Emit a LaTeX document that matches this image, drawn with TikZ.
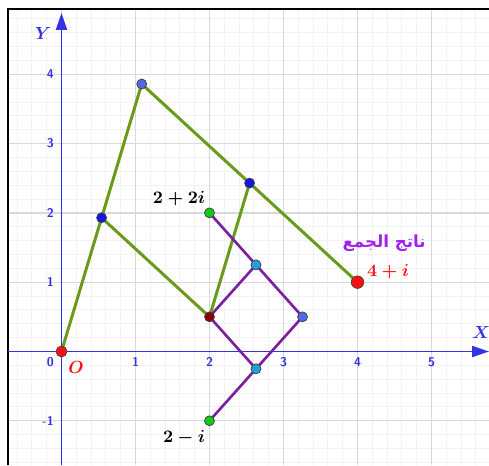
\documentclass[tikz,border=0pt]{standalone}
\usepackage{fontspec}
\newfontfamily\arabicfont[Script=Arabic]{DejaVu Sans}
\TeXXeTstate=1
\usetikzlibrary{arrows.meta, calc}

\definecolor{axisblue}{HTML}{3333E6}
\definecolor{sumgreen}{HTML}{6A9A1A}
\definecolor{prodpurple}{HTML}{7B1FA2}
\definecolor{ptblue}{HTML}{1515E8}
\definecolor{ptslate}{HTML}{5566E6}
\definecolor{ptcyan}{HTML}{22A0DD}
\definecolor{ptgreen}{HTML}{14C814}
\definecolor{ptdark}{HTML}{8B0000}
\definecolor{ptred}{HTML}{FF1010}
\definecolor{sumviolet}{HTML}{A321F0}

\tikzset{
    dot/.style={circle, draw=black!75, line width=0.4pt, inner sep=0pt, minimum size=2mm},
    bigdot/.style={dot, minimum size=2.5mm},
    ticklabel/.style={text=axisblue, font=\sffamily\bfseries\fontsize{7.2}{8}\selectfont, inner sep=0pt},
    axislabel/.style={text=axisblue, font=\fontsize{10}{12}\selectfont\boldmath},
    vlabel/.style={font=\fontsize{10}{12}\selectfont\boldmath, inner sep=0pt},
    sumline/.style={sumgreen, line width=1.7pt},
    prodline/.style={prodpurple, line width=1.5pt}
}

\begin{document}
\begin{tikzpicture}[x=1.48cm, y=1.386cm]

    % ---------- frame and grid ----------
    \def\xl{-0.723}
    \def\xr{5.777}
    \def\yb{-1.638}
    \def\yt{4.942}
    \useasboundingbox (-0.831,\yb) rectangle (\xr,5.072);
    \draw[gray!10, line width=0.5pt, step=0.2] (\xl,\yb) grid (\xr,\yt);
    \draw[gray!30, line width=0.7pt, step=1] (\xl,\yb) grid (\xr,\yt);
    \draw[black, line width=1.2pt] (\xl,\yb) -- (\xl,\yt) -- (\xr,\yt);

    % ---------- axes ----------
    \draw[axisblue, line width=1.1pt, -{Triangle[length=3.4mm, width=2.2mm]}] (\xl,0) -- (\xr,0);
    \draw[axisblue, line width=1.1pt, -{Triangle[length=3.4mm, width=2.2mm]}] (0,\yb) -- (0,4.885);
    \node[axislabel] (xlab) at (5.669,0.281) {$X$};
    \node[axislabel] (ylab) at (-0.25,4.596) {$Y$};

    \foreach \x in {1,...,5}
        \node[ticklabel] (tx\x) at (\x,-0.152) {\x};
    \foreach \y in {1,...,4}
        \node[ticklabel, anchor=east] (ty\y) at (-0.1,\y) {\y};
    \node[ticklabel, anchor=east] (tym) at (-0.1,-1) {-1};
    \node[ticklabel, anchor=east] (t0) at (-0.1,-0.152) {0};

    % ---------- points ----------
    \coordinate (cO) at (0,0);
    \coordinate (cP) at (1.084,3.86);
    \coordinate (cS) at (4,1);
    \coordinate (cA) at (2,2);
    \coordinate (cB) at (2,-1);
    \coordinate (cQ) at (3.257,0.5);
    \coordinate (cP1) at ($(cO)!0.5!(cP)$);
    \coordinate (cP3) at ($(cP)!0.5!(cS)$);
    \coordinate (cM) at ($(cO)!0.5!(cS)$);
    \coordinate (cQ1) at ($(cA)!0.5!(cQ)$);
    \coordinate (cQ3) at ($(cQ)!0.5!(cB)$);

    % green figure (sum)
    \draw[sumline] (cO) -- (cP) -- (cS);
    \draw[sumline] (cP1) -- (cM) -- (cP3);

    % purple figure
    \draw[prodline] (cA) -- (cQ) -- (cB);
    \draw[prodline] (cQ1) -- (cM) -- (cQ3);

    \node[bigdot, fill=ptred, minimum size=2.2mm] (o) at (cO) {};
    \node[dot, fill=ptblue] (p1) at (cP1) {};
    \node[dot, fill=ptslate] (p) at (cP) {};
    \node[dot, fill=ptblue] (p3) at (cP3) {};
    \node[bigdot, fill=ptred] (s) at (cS) {};
    \node[dot, fill=ptdark] (m) at (cM) {};
    \node[dot, fill=ptgreen] (a) at (cA) {};
    \node[dot, fill=ptgreen] (b) at (cB) {};
    \node[dot, fill=ptcyan] (q1) at (cQ1) {};
    \node[dot, fill=ptslate] (q) at (cQ) {};
    \node[dot, fill=ptcyan] (q3) at (cQ3) {};

    % ---------- labels ----------
    \node[vlabel, text=ptred] (olab) at (0.196,-0.224) {$O$};
    \node[vlabel] (alab) at (1.588,2.200) {$2+2i$};
    \node[vlabel] (blab) at (1.655,-1.248) {$2-i$};
    \node[vlabel, text=ptred] (slab) at (4.412,1.147) {$4+i$};
    \node[text=sumviolet, font=\arabicfont\bfseries\fontsize{9.5}{12}\selectfont, inner sep=0pt] (sumlab)
        at (4.36,1.566) {\beginR ناتج الجمع\endR};

\end{tikzpicture}
\end{document}
